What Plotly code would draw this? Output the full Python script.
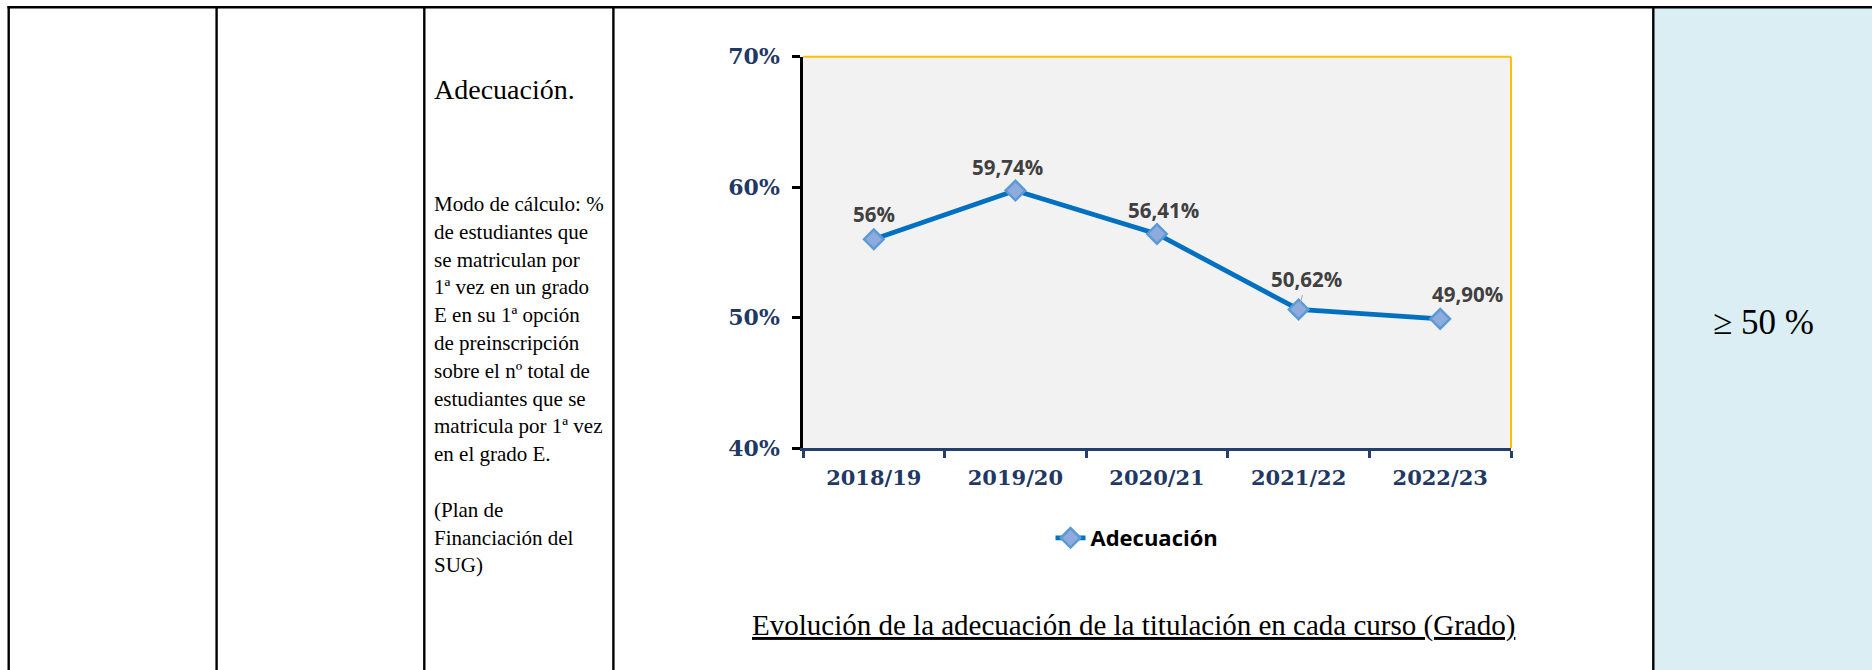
import plotly.graph_objects as go

# ---------------- data ----------------
courses = ["2018/19", "2019/20", "2020/21", "2021/22", "2022/23"]
adecuacion = [56.0, 59.74, 56.41, 50.62, 49.90]
value_labels = ["56%", "59,74%", "56,41%", "50,62%", "49,90%"]
series_name = "Adecuación"
y_ticks = [40, 50, 60, 70]
y_tick_labels = ["40%", "50%", "60%", "70%"]

indicator_title = "Adecuación."
indicator_lines = [
    "Modo de cálculo: %",
    "de estudiantes que",
    "se matriculan por",
    "1ª vez en un grado",
    "E en su 1ª opción",
    "de preinscripción",
    "sobre el nº total de",
    "estudiantes que se",
    "matricula por 1ª vez",
    "en el grado E.",
    "",
    "(Plan de",
    "Financiación del",
    "SUG)",
]
target_text = "≥ 50 %"
chart_caption = "Evolución de la adecuación de la titulación en cada curso (Grado)"

# ---------------- geometry helpers ----------------
W, H = 1872, 670


def px(x):
    return x / W


def py(y):
    return 1 - y / H


NAVY = "#1F3864"
LINE_BLUE = "#0070C0"

fig = go.Figure()

fig.add_trace(go.Scatter(
    x=courses, y=adecuacion, name=series_name,
    mode="lines+markers",
    line=dict(color=LINE_BLUE, width=4.8),
    marker=dict(symbol="diamond", size=15, color="#8FAADC",
                line=dict(color="#5B9BD5", width=2.5)),
    hoverinfo="skip",
))

shapes = []
# light blue cell
shapes.append(dict(type="rect", xref="paper", yref="paper",
                   x0=px(1654), x1=px(W), y0=py(H), y1=py(8),
                   fillcolor="#DAEEF3", line=dict(width=0), layer="below"))
# table borders
shapes.append(dict(type="line", xref="paper", yref="paper",
                   x0=px(7.5), x1=px(W), y0=py(7.2), y1=py(7.2),
                   line=dict(color="black", width=2.6)))
for xv in [8.7, 216.6, 424.3, 613.4, 1653.3]:
    shapes.append(dict(type="line", xref="paper", yref="paper",
                       x0=px(xv), x1=px(xv), y0=py(6), y1=py(H),
                       line=dict(color="black", width=2.4)))
# gold top/right border of plot area
shapes.append(dict(type="line", xref="x domain", yref="y domain",
                   x0=0, x1=1, y0=1, y1=1, line=dict(color="#FFC000", width=2)))
shapes.append(dict(type="line", xref="x domain", yref="y domain",
                   x0=1, x1=1, y0=0, y1=1, line=dict(color="#FFC000", width=2)))

annotations = []
# indicator title and description
annotations.append(dict(xref="paper", yref="paper", x=px(432), y=py(90),
                        xanchor="left", yanchor="middle", showarrow=False,
                        text=indicator_title,
                        font=dict(family="Liberation Serif", size=28, color="black")))
for i, line in enumerate(indicator_lines):
    if not line:
        continue
    annotations.append(dict(xref="paper", yref="paper", x=px(432), y=py(204 + 27.8 * i),
                            xanchor="left", yanchor="middle", showarrow=False,
                            text=line,
                            font=dict(family="Liberation Serif", size=21, color="black")))
# target
annotations.append(dict(xref="paper", yref="paper", x=px(1763), y=py(322),
                        xanchor="center", yanchor="middle", showarrow=False,
                        text=target_text,
                        font=dict(family="Liberation Serif", size=35, color="black")))
# caption
annotations.append(dict(xref="paper", yref="paper", x=px(1133), y=py(625),
                        xanchor="center", yanchor="middle", showarrow=False,
                        text="<u>" + chart_caption + "</u>",
                        font=dict(family="Liberation Serif", size=29, color="black")))

# data labels
shifts = [(0, 25), (-8, 24), (6, 24), (8, 30), (27, 25)]
for i, (c, v, lab) in enumerate(zip(courses, adecuacion, value_labels)):
    dx, dy = shifts[i]
    a = dict(xref="x", yref="y", x=c, y=v, text=lab,
             font=dict(family="Open Sans", size=20.5, color="#404040", weight="bold"))
    if i == 3:
        a.update(showarrow=True, ax=dx, ay=-dy, arrowhead=0, arrowwidth=1,
                 arrowcolor="#A6A6A6", standoff=5)
    else:
        a.update(showarrow=False, xshift=dx, yshift=dy)
    annotations.append(a)

fig.update_layout(
    width=W, height=H,
    margin=dict(l=0, r=0, t=0, b=0, pad=0, autoexpand=False),
    paper_bgcolor="white",
    plot_bgcolor="#F2F2F2",
    showlegend=True,
    legend=dict(orientation="h", x=px(1137), xanchor="center", y=py(538), yanchor="middle",
                font=dict(family="Open Sans", size=22, color="black", weight="bold"),
                bgcolor="rgba(0,0,0,0)"),
    xaxis=dict(domain=[px(803), px(1511)], type="category", range=[-0.5, 4.5],
               automargin=False,
               showgrid=False, zeroline=False,
               showline=True, linecolor="#243F6B", linewidth=3,
               ticks="outside", tickson="boundaries", ticklen=7, tickwidth=2.5,
               tickcolor="#243F6B", ticklabelstandoff=9,
               tickfont=dict(family="DejaVu Serif", size=21, color=NAVY, weight="bold")),
    yaxis=dict(domain=[py(448), py(56.7)], range=[40, 70],
               automargin=False,
               tickmode="array", tickvals=y_ticks, ticktext=y_tick_labels,
               showgrid=False, zeroline=False,
               showline=True, linecolor="black", linewidth=2.5,
               ticks="outside", ticklen=8, tickwidth=2.5, tickcolor="black",
               ticklabelstandoff=8,
               tickfont=dict(family="DejaVu Serif", size=22, color=NAVY, weight="bold")),
    shapes=shapes,
    annotations=annotations,
)

fig.write_html("out.html", config={"displayModeBar": False},
               post_script="document.body.style.margin='0px';document.body.style.overflow='hidden';")
